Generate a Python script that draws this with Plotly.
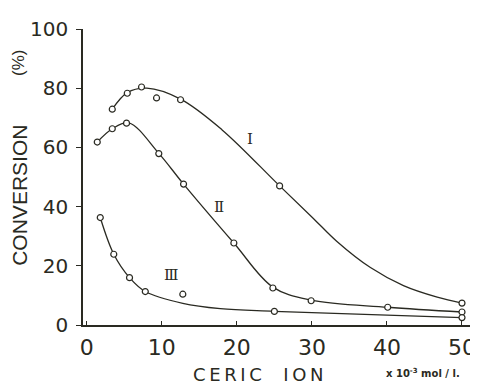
import plotly.graph_objects as go

# Measured points (ceric ion concentration x1e-3 mol/l, conversion %)
x_I = [3.4, 5.4, 7.3, 9.3, 12.5, 25.7, 50.0]
y_I = [72.9, 78.3, 80.4, 76.7, 76.1, 47.0, 7.4]
x_II = [1.4, 3.4, 5.3, 9.6, 12.9, 19.6, 24.8, 29.9, 40.1, 50.0]
y_II = [61.8, 66.3, 68.2, 57.9, 47.6, 27.7, 12.5, 8.2, 6.0, 4.4]
x_III = [1.8, 3.6, 5.7, 7.8, 12.8, 25.0, 50.0]
y_III = [36.3, 23.9, 16.0, 11.3, 10.4, 4.6, 2.5]

# Smooth curves as drawn in the figure
cx_I = [3.4, 5.4, 8.0, 12.5, 18.0, 25.7, 30.2, 33.3, 37.8, 42.2, 46.7, 50.0]
cy_I = [72.9, 78.5, 80.0, 76.3, 66.0, 47.0, 36.0, 28.3, 19.4, 13.3, 9.4, 7.4]
cx_II = [1.4, 3.4, 5.6, 9.6, 12.9, 19.6, 24.8, 29.9, 40.1, 50.0]
cy_II = [61.8, 66.3, 68.3, 58.0, 47.6, 27.7, 12.8, 8.4, 6.0, 4.4]
cx_III = [1.8, 3.6, 5.7, 7.8, 12.8, 17.8, 25.0, 50.0]
cy_III = [36.3, 23.9, 16.0, 11.3, 7.3, 5.5, 4.6, 2.5]

x_ticks = [0, 10, 20, 30, 40, 50]
y_ticks = [0, 20, 40, 60, 80, 100]

curve_labels = ["\u2160", "\u2161", "\u2162"]
label_x = [21.7, 17.6, 11.2]
label_y = [63, 40, 17]

ink = "#2a2a22"
fig = go.Figure()
for cx, cy in [(cx_I, cy_I), (cx_II, cy_II), (cx_III, cy_III)]:
    fig.add_trace(go.Scatter(x=cx, y=cy, mode="lines",
                             line=dict(color=ink, width=1.3, shape="spline", smoothing=1.0),
                             hoverinfo="skip", showlegend=False))
for px, py in [(x_I, y_I), (x_II, y_II), (x_III, y_III)]:
    fig.add_trace(go.Scatter(x=px, y=py, mode="markers",
                             marker=dict(symbol="circle", size=6, color="white",
                                         line=dict(color=ink, width=1.2)),
                             showlegend=False, cliponaxis=False))

for t, lx, ly in zip(curve_labels, label_x, label_y):
    fig.add_annotation(x=lx, y=ly, xref="x", yref="y", text=t, showarrow=False,
                       font=dict(family="DejaVu Serif", size=15, color=ink))

fig.add_annotation(x=0.444, y=-0.166, xref="paper", yref="paper",
                   text="C\u2009E\u2009R\u2009I\u2009C\u2003\u2009I\u2009O\u2009N",
                   showarrow=False, xanchor="center", yanchor="middle",
                   font=dict(family="DejaVu Sans", size=18, color=ink))
fig.add_annotation(x=0.862, y=-0.163, xref="paper", yref="paper",
                   text="<b>x 10<sup>-3</sup> mol / l.</b>",
                   showarrow=False, xanchor="center", yanchor="middle",
                   font=dict(family="DejaVu Sans", size=10, color=ink))
fig.add_annotation(x=-0.161, y=(325 - 191.5) / 304.5, xref="paper", yref="paper",
                   text="CONVERSION", textangle=-90, showarrow=False,
                   xanchor="center", yanchor="middle",
                   font=dict(family="Liberation Sans", size=21, color=ink))
fig.add_annotation(x=-0.164, y=(325 - 55) / 304.5, xref="paper", yref="paper",
                   text="(%)", textangle=-90, showarrow=False,
                   xanchor="center", yanchor="middle",
                   font=dict(family="Liberation Sans", size=17, color=ink))

# page body has an 8px margin; compensate so the plot area lands at x 83..477, y 20..325
fig.update_layout(
    width=478, height=385,
    margin=dict(l=75, r=9, t=12, b=68),
    paper_bgcolor="white", plot_bgcolor="white",
    xaxis=dict(range=[-0.5, 52.0], tickvals=x_ticks, ticktext=[str(v) for v in x_ticks],
               showgrid=False, zeroline=False, showline=True, linecolor=ink, linewidth=1.5,
               ticks="inside", ticklen=4, tickcolor=ink, tickwidth=1,
               tickfont=dict(family="DejaVu Sans", size=22, color=ink),
               ticklabelstandoff=2),
    yaxis=dict(range=[0, 100], tickvals=y_ticks, ticktext=[str(v) for v in y_ticks],
               showgrid=False, zeroline=False, showline=True, linecolor=ink, linewidth=1.5,
               ticks="outside", ticklen=5, tickcolor=ink, tickwidth=1.2,
               tickfont=dict(family="DejaVu Sans", size=20, color=ink),
               ticklabelstandoff=4),
)

fig.write_html("out.html")
